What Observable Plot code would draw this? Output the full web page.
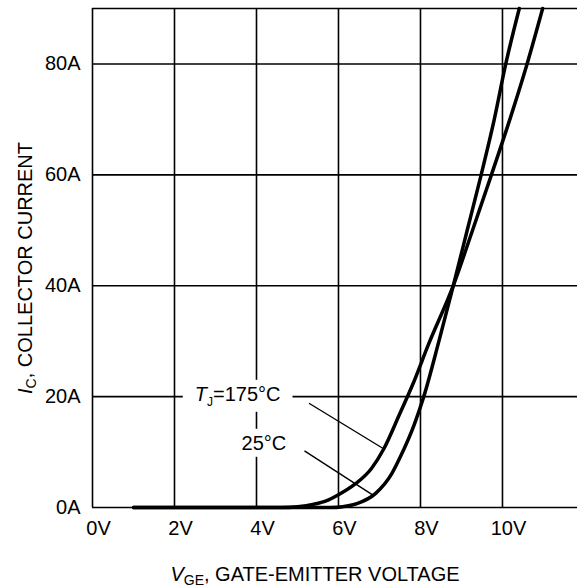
<!DOCTYPE html>
<html><head><meta charset="utf-8">
<script src="https://cdn.jsdelivr.net/npm/d3@7"></script>
<script src="https://cdn.jsdelivr.net/npm/@observablehq/plot@0.6"></script>
<style>html,body{margin:0;padding:0;background:#fff}</style>
</head><body><div id="chart"></div>
<script>
// Gate-emitter voltage (V) vs collector current (A)
const vge25  = [1.0, 5.8, 6.1, 6.45, 6.9, 7.3, 7.5, 7.85, 8.08, 8.45, 8.8, 9.14, 9.48, 9.8, 10.08, 10.41];
const ic25   = [0,   0,   0.15, 0.7, 2.5, 6.1, 9,   15,   20,   30,   40,  50,   60,   70,  80,    90];
const vge175 = [1.0, 4.6, 5.0, 5.4, 5.7, 6.0, 6.4, 6.8, 7.1, 7.5, 7.8, 8.2, 8.8, 9.27, 9.73, 10.18, 10.6, 10.98];
const ic175  = [0,   0,   0.15, 0.6, 1.2, 2.3, 4.2, 7.0, 10.5, 17, 22,  29.5, 40, 50,   60,   70,    80,   90];

const xTicks = [0, 2, 4, 6, 8, 10];
const yTicks = [0, 20, 40, 60, 80];
const xGrid = [0, 2, 4, 6, 8, 10, 12];
const yGrid = [0, 20, 40, 60, 80, 90];

// annotations (data units)
const labelText = ["TJ=175°C", "25°C"];
const labelX = [3.54, 4.18];
const labelY = [20.4, 11.56];
const leadX1 = [5.28, 5.17];
const leadY1 = [18.8, 10.2];
const leadX2 = [7.1, 6.85];
const leadY2 = [10.6, 2.2];

const d25 = vge25.map((v, i) => ({v, ic: ic25[i]}));
const d175 = vge175.map((v, i) => ({v, ic: ic175[i]}));
const labels = labelText.map((t, i) => ({t, x: labelX[i], y: labelY[i]}));
const leaders = leadX1.map((x1, i) => ({x1, y1: leadY1[i], x2: leadX2[i], y2: leadY2[i]}));

const FONT = "'Liberation Sans', Arial, Helvetica, sans-serif";

const chart = Plot.plot({
  width: 577,
  height: 588,
  marginLeft: 92,
  marginRight: 0,
  marginTop: 8,
  marginBottom: 81,
  style: {fontFamily: FONT, fontSize: "20px", color: "black", background: "white"},
  x: {domain: [0, 11.83], axis: null},
  y: {domain: [0, 90], axis: null},
  marks: [
    Plot.ruleX(xGrid, {x: d => d, stroke: "black", strokeWidth: 1.6}),
    Plot.ruleY(yGrid, {y: d => d, stroke: "black", strokeWidth: 1.6}),
    Plot.line(d175, {x: "v", y: "ic", curve: "monotone-x", stroke: "black", strokeWidth: 3.5}),
    Plot.line(d25, {x: "v", y: "ic", curve: "monotone-x", stroke: "black", strokeWidth: 3.5}),
    Plot.text(labels, {x: "x", y: "y", text: "t", fontSize: 20, fill: "black"}),
    Plot.link(leaders, {x1: "x1", y1: "y1", x2: "x2", y2: "y2", stroke: "black", strokeWidth: 1.4}),
    Plot.text(yTicks, {x: 0, y: d => d, text: d => d + "A", textAnchor: "end", dx: -12, fontSize: 20, fill: "black"}),
    Plot.text(xTicks, {x: d => d, y: 0, text: d => d + "V", dy: 21, dx: 6, fontSize: 20, fill: "black"})
  ]
});

document.getElementById("chart").appendChild(chart);
const svgNode = chart.tagName.toLowerCase() === "svg" ? chart : chart.querySelector("svg");
const svg = d3.select(svgNode);

// rich text for the Tj label + white background boxes behind annotations
svg.selectAll("text").filter(function() { return labelText.includes(this.textContent); }).each(function() {
  const el = d3.select(this);
  if (this.textContent === "TJ=175°C") {
    el.text(null);
    el.append("tspan").attr("font-style", "italic").text("T");
    el.append("tspan").attr("font-size", 12).attr("dy", 5).text("J");
    el.append("tspan").attr("dy", -5).text("=175°C");
  }
  const b = this.getBBox();
  const padX = 12, padY = 3;
  const rect = document.createElementNS("http://www.w3.org/2000/svg", "rect");
  rect.setAttribute("x", b.x - padX);
  rect.setAttribute("y", b.y - padY);
  rect.setAttribute("width", b.width + 2 * padX);
  rect.setAttribute("height", b.height + 2 * padY);
  rect.setAttribute("fill", "white");
  if (this.getAttribute("transform")) rect.setAttribute("transform", this.getAttribute("transform"));
  this.parentNode.insertBefore(rect, this);
});

// axis titles
const xt = svg.append("text")
  .attr("x", 315).attr("y", 581)
  .attr("text-anchor", "middle")
  .attr("font-family", FONT).attr("font-size", 20).attr("fill", "black");
xt.append("tspan").attr("font-style", "italic").text("V");
xt.append("tspan").attr("font-size", 14).attr("dy", 4).text("GE");
xt.append("tspan").attr("dy", -4).text(", GATE-EMITTER VOLTAGE");

const yt = svg.append("text")
  .attr("transform", "translate(32,268) rotate(-90)")
  .attr("text-anchor", "middle")
  .attr("font-family", FONT).attr("font-size", 20).attr("fill", "black");
yt.append("tspan").attr("font-style", "italic").text("I");
yt.append("tspan").attr("font-size", 14).attr("dy", 4).text("C");
yt.append("tspan").attr("dy", -4).text(", COLLECTOR CURRENT");
</script>
</body></html>
